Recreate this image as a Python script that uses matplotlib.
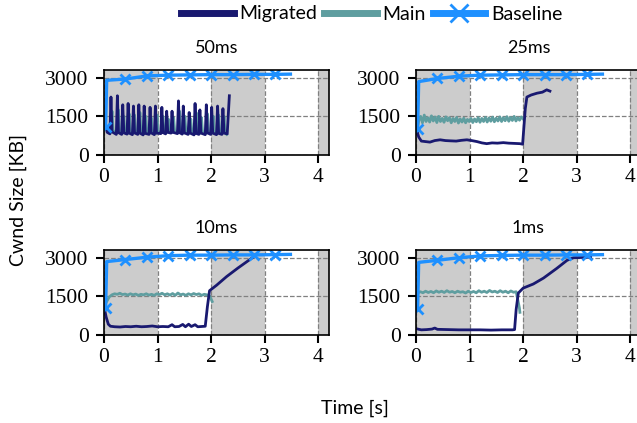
import numpy as np
import matplotlib
matplotlib.use("Agg")
import matplotlib.pyplot as plt

# ---- data ----
panels = ["50ms", "25ms", "10ms", "1ms"]

# Baseline, same sample times for all panels
base_t = [0.03, 0.05, 0.4, 0.8, 1.2, 1.6, 2.0, 2.4, 2.8, 3.2, 3.48]
base_50 = [1100, 2900, 2950, 3070, 3100, 3110, 3120, 3120, 3130, 3130, 3140]
base_25 = [1000, 2850, 2970, 3060, 3100, 3110, 3120, 3120, 3120, 3130, 3140]
base_10 = [1050, 2850, 2930, 3020, 3080, 3100, 3100, 3110, 3110, 3120, 3130]
base_1 = [1000, 2820, 2900, 3000, 3070, 3090, 3100, 3100, 3110, 3110, 3120]
base_marks = [0, 2, 3, 4, 5, 6, 7, 8, 9]

# 50ms
mig_50_t = [0.03, 0.06, 0.11, 0.13, 0.15, 0.23, 0.25, 0.27, 0.33, 0.35, 0.37,
            0.43, 0.45, 0.47, 0.53, 0.55, 0.57, 0.63, 0.65, 0.67, 0.73, 0.75,
            0.77, 0.84, 0.86, 0.88, 0.94, 0.96, 0.98, 1.06, 1.08, 1.10, 1.15,
            1.17, 1.19, 1.25, 1.27, 1.29, 1.37, 1.39, 1.41, 1.46, 1.48, 1.50,
            1.57, 1.59, 1.61, 1.68, 1.70, 1.72, 1.77, 1.79, 1.81, 1.89, 1.91,
            1.93, 1.99, 2.01, 2.03, 2.10, 2.12, 2.14, 2.20, 2.22, 2.24, 2.30,
            2.34]
mig_50 = [1150, 880, 820, 2250, 900, 800, 2300, 870, 800, 1950, 860,
          810, 2000, 850, 790, 1900, 860, 800, 1950, 850, 780, 1900,
          840, 800, 1850, 860, 790, 1900, 850, 830, 1850, 870, 820,
          1700, 880, 850, 1700, 880, 830, 2100, 870, 810, 1900, 860,
          800, 1650, 850, 780, 2000, 840, 800, 1750, 850, 790, 1950,
          860, 800, 1850, 850, 790, 1900, 840, 800, 1800, 850, 820,
          2300]
main_50_t = [0.03, 0.07, 0.12, 0.15, 0.17, 0.25, 0.27, 0.29, 0.35, 0.37, 0.39,
             0.45, 0.47, 0.49, 0.55, 0.57, 0.59, 0.65, 0.67, 0.69, 0.76, 0.78,
             0.80, 0.86, 0.88, 0.90, 0.97, 0.99, 1.01, 1.08, 1.10, 1.12, 1.18,
             1.20, 1.22, 1.28, 1.30, 1.32, 1.39, 1.41, 1.43, 1.49, 1.51, 1.53,
             1.60, 1.62, 1.64, 1.70, 1.72, 1.74, 1.80, 1.82, 1.84, 1.91, 1.93,
             1.95, 2.02, 2.04, 2.06, 2.12, 2.14, 2.16, 2.22, 2.24, 2.26, 2.29]
main_50 = [1100, 900, 850, 1700, 950, 860, 1750, 920, 850, 1500, 900,
           850, 1600, 900, 840, 1550, 920, 860, 1650, 900, 840, 1500,
           900, 850, 1450, 920, 840, 1550, 900, 870, 1500, 930, 880,
           1400, 920, 880, 1450, 930, 860, 1700, 900, 850, 1500, 900,
           850, 1400, 900, 830, 1650, 880, 850, 1450, 900, 840, 1600,
           900, 850, 1500, 880, 840, 1550, 880, 850, 1500, 900, 800]

# 25ms
mig_25_t = [0.01, 0.05, 0.10, 0.18, 0.26, 0.35, 0.45, 0.55, 0.64, 0.75, 0.85,
            0.95, 1.04, 1.14, 1.23, 1.32, 1.42, 1.52, 1.63, 1.73, 1.84, 1.94,
            1.99, 2.04, 2.07, 2.15, 2.26, 2.36, 2.44, 2.50]
mig_25 = [1000, 700, 540, 520, 500, 560, 590, 560, 550, 540, 570,
          590, 560, 520, 470, 440, 470, 460, 480, 460, 450, 440,
          420, 1800, 2250, 2330, 2400, 2440, 2530, 2480]
main_25_t = np.linspace(0.02, 2.0, 60)
main_25 = [1000, 1350, 1500, 1250, 1550, 1300, 1450, 1280, 1520, 1320,
           1480, 1260, 1500, 1300, 1420, 1270, 1480, 1330, 1450, 1250,
           1420, 1300, 1460, 1240, 1400, 1280, 1430, 1250, 1380, 1300,
           1420, 1260, 1400, 1290, 1450, 1270, 1420, 1300, 1460, 1280,
           1440, 1310, 1470, 1290, 1430, 1320, 1480, 1300, 1450, 1330,
           1490, 1310, 1460, 1340, 1500, 1320, 1450, 1350, 1480, 1400]

# 10ms
mig_10_t = [0.01, 0.04, 0.08, 0.12, 0.2, 0.3, 0.4, 0.5, 0.6, 0.7, 0.8, 0.9,
            1.0, 1.1, 1.2, 1.27, 1.32, 1.4, 1.47, 1.52, 1.58, 1.63, 1.7,
            1.75, 1.82, 1.89, 1.93, 1.97, 2.1, 2.29, 2.5, 2.77]
mig_10 = [1000, 700, 420, 340, 320, 310, 330, 320, 340, 320, 330, 350,
          320, 330, 320, 400, 320, 330, 410, 320, 420, 330, 400,
          320, 330, 340, 1100, 1720, 1930, 2270, 2600, 3000]
main_10_t = np.concatenate([np.linspace(0.05, 1.97, 40), [2.02]])
main_10 = [1300, 1480, 1560, 1600, 1580, 1620, 1570, 1590, 1550, 1600,
           1560, 1590, 1540, 1580, 1560, 1600, 1550, 1580, 1540, 1600,
           1570, 1620, 1560, 1600, 1550, 1610, 1540, 1630, 1560, 1590,
           1540, 1600, 1560, 1610, 1570, 1600, 1540, 1580, 1560, 1520,
           1300]

# 1ms
mig_1_t = [0.01, 0.1, 0.2, 0.3, 0.35, 0.4, 0.6, 0.8, 1.0, 1.2, 1.4, 1.6,
           1.8, 1.84, 1.87, 1.91, 2.0, 2.19, 2.38, 2.63, 2.82, 2.94, 3.1, 3.26]
mig_1 = [240, 200, 210, 230, 270, 220, 210, 200, 200, 200, 190, 200,
         200, 210, 1000, 1630, 1820, 1980, 2210, 2590, 2900, 3000, 3010, 3020]
main_1_t = np.concatenate([np.linspace(0.03, 1.87, 38), [1.93, 1.94]])
main_1 = [1630, 1680, 1640, 1700, 1650, 1690, 1640, 1710, 1660, 1700,
          1650, 1720, 1660, 1690, 1640, 1700, 1660, 1680, 1630, 1700,
          1650, 1690, 1640, 1720, 1660, 1700, 1650, 1730, 1670, 1700,
          1650, 1720, 1660, 1700, 1640, 1710, 1660, 1680, 1050, 880]

series = {
    "50ms": (mig_50_t, mig_50, main_50_t, main_50, base_50),
    "25ms": (mig_25_t, mig_25, main_25_t, main_25, base_25),
    "10ms": (mig_10_t, mig_10, main_10_t, main_10, base_10),
    "1ms": (mig_1_t, mig_1, main_1_t, main_1, base_1),
}

c_mig = "#191970"
c_main = "#5f9ea0"
c_base = "#1e90ff"
sans = ["Lato", "DejaVu Sans"]
serif = ["Liberation Serif", "DejaVu Serif"]

fig = plt.figure(figsize=(6.37, 4.23), dpi=100)
W, H = 637, 423
pos = {"50ms": (104, 70), "25ms": (416, 70), "10ms": (104, 250), "1ms": (416, 250)}
aw, ah = 225, 85

for name in panels:
    x0, y0 = pos[name]
    ax = fig.add_axes([x0 / W, (H - y0 - ah) / H, aw / W, ah / H])
    mt, mv, nt, nv, bv = series[name]
    for a, b in [(0, 1), (2, 3), (4, 5)]:
        ax.axvspan(a, b, color="#cccccc", lw=0, zorder=0)
    ax.plot(nt, nv, color=c_main, lw=2.0, label="Main")
    ax.plot(mt, mv, color=c_mig, lw=2.0, label="Migrated")
    ax.plot(base_t, bv, color=c_base, lw=2.4, marker="x", ms=7, mew=2,
            markevery=base_marks, label="Baseline")
    ax.set_xlim(0, 4.2)
    ax.set_ylim(0, 3300)
    ax.set_xticks([0, 1, 2, 3, 4])
    ax.set_yticks([0, 1500, 3000])
    ax.grid(True, ls="--", color="#808080", lw=0.9)
    ax.tick_params(direction="out", length=6, width=1.5, labelsize=15.5)
    ax.tick_params(axis="y", pad=5)
    for lab in ax.get_xticklabels() + ax.get_yticklabels():
        lab.set_family(serif)
    for s in ax.spines.values():
        s.set_linewidth(1.2)
    ax.set_title(name, fontsize=13, family=sans, pad=12)
    if name == "50ms":
        handles, labels = ax.get_legend_handles_labels()

order = [1, 0, 2]
leg = fig.legend([handles[i] for i in order], [labels[i] for i in order],
                 loc="center", bbox_to_anchor=(372 / W, 1 - 14 / H), ncol=3,
                 frameon=False, prop={"family": sans, "size": 14},
                 handlelength=2.7, handletextpad=0.3, columnspacing=0.35,
                 markerscale=1.8, borderpad=0)
for h in leg.legend_handles:
    h.set_linewidth(5)

fig.text(18 / W, 1 - 200 / H, "Cwnd Size [KB]", rotation=90, ha="center",
         va="center", fontsize=14, family=sans)
fig.text(355 / W, 1 - 408 / H, "Time [s]", ha="center", va="center",
         fontsize=14, family=sans)

fig.savefig("out.png", dpi=100)
